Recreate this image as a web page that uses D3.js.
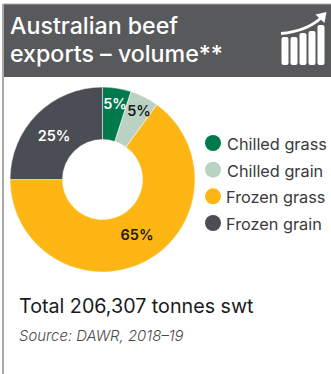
<!DOCTYPE html>
<html>
<head>
<meta charset="utf-8">
<script src="https://cdn.jsdelivr.net/npm/d3@7"></script>
<style>
  html, body { margin: 0; padding: 0; background: #fff; }
  svg { display: block; font-family: Inter, Lato, sans-serif; }
</style>
</head>
<body>
<svg id="chart" width="331" height="374"></svg>
<script>
// Export volume shares, percent of total
const categories = ["Chilled grass", "Chilled grain", "Frozen grass", "Frozen grain"];
const shares = [5, 5, 65, 25];
const sliceColors = ["#00794c", "#b9d2c3", "#fdb614", "#4a4d53"];
const labelColors = ["#ffffff", "#1a1a1a", "#1a1a1a", "#ffffff"];
const titleLines = ["Australian beef", "exports – volume**"];
const iconBars = [28, 28, 32, 34, 40];

const svg = d3.select("#chart");

// Panel frame and title band
svg.append("rect").attr("x", 3).attr("y", 4).attr("width", 328).attr("height", 73).attr("fill", "#58595b");
svg.append("line").attr("x1", 3).attr("x2", 331).attr("y1", 4).attr("y2", 4).attr("stroke", "#a9a9a9").attr("stroke-width", 1);
svg.append("line").attr("x1", 3).attr("x2", 3).attr("y1", 4).attr("y2", 374).attr("stroke", "#a9a9a9").attr("stroke-width", 2);

svg.append("g").selectAll("text").data(titleLines).join("text")
  .attr("x", 10).attr("y", (d, i) => 34 + i * 28)
  .attr("fill", "#fff").attr("font-size", 23.2).attr("font-weight", 500)
  .text(d => d);

// Rising bars and arrow icon
const iconX = d3.scaleBand().domain(d3.range(iconBars.length)).range([281.5, 324.5]).paddingInner(0.22);
const icon = svg.append("g");
icon.selectAll("rect").data(iconBars).join("rect")
  .attr("x", (d, i) => iconX(i)).attr("width", iconX.bandwidth())
  .attr("y", d => 65 - d).attr("height", d => d).attr("rx", 2).attr("fill", "#fff");
icon.append("path").attr("d", "M281 33.5 C298 32 311 27 321 18").attr("fill", "none").attr("stroke", "#fff").attr("stroke-width", 3);
icon.append("path").attr("d", "M315.5 14.5 L326.5 12 L324.5 23 Z").attr("fill", "#fff");

// Doughnut
const center = [102.5, 179.5];
const pie = d3.pie().sort(null)(shares);
const arc = d3.arc().innerRadius(40).outerRadius(92.5);
const ring = svg.append("g").attr("transform", `translate(${center})`);
ring.selectAll("path").data(pie).join("path")
  .attr("d", arc).attr("fill", (d, i) => sliceColors[i])
  .attr("stroke", "#fff").attr("stroke-width", 0.5);

const labelArc = d3.arc().innerRadius(70).outerRadius(70);
const labelShift = [[1.6, -6.4], [4.7, -7], [2.7, -7], [1, 5]];
ring.selectAll("text").data(pie).join("text")
  .attr("transform", (d, i) => {
    const p = labelArc.centroid(d);
    return `translate(${p[0] + labelShift[i][0]},${p[1] + labelShift[i][1]})`;
  })
  .attr("text-anchor", "middle").attr("dominant-baseline", "central")
  .attr("font-size", 14.5).attr("font-weight", 600)
  .attr("fill", (d, i) => labelColors[i])
  .text(d => d.data + "%");

// Legend
const legendY = d3.scalePoint().domain(categories).range([143, 223]);
const legend = svg.append("g").selectAll("g").data(categories).join("g")
  .attr("transform", d => `translate(0,${legendY(d)})`);
legend.append("circle").attr("cx", 213).attr("r", 8).attr("fill", (d, i) => sliceColors[i]);
legend.append("text").attr("x", (d, i) => i < 2 ? 227 : 226).attr("y", 7)
  .attr("font-size", 16.3).attr("fill", "#3a3a3c").text(d => d);

// Footer
svg.append("text").attr("x", 19).attr("y", 313).attr("font-size", 19.7).attr("fill", "#1a1a1a").text("Total 206,307 tonnes swt");
svg.append("text").attr("x", 19).attr("y", 341).attr("font-size", 14.9).attr("font-style", "italic").attr("font-weight", 300).attr("fill", "#4a4a4a").text("Source: DAWR, 2018–19");
</script>
</body>
</html>
